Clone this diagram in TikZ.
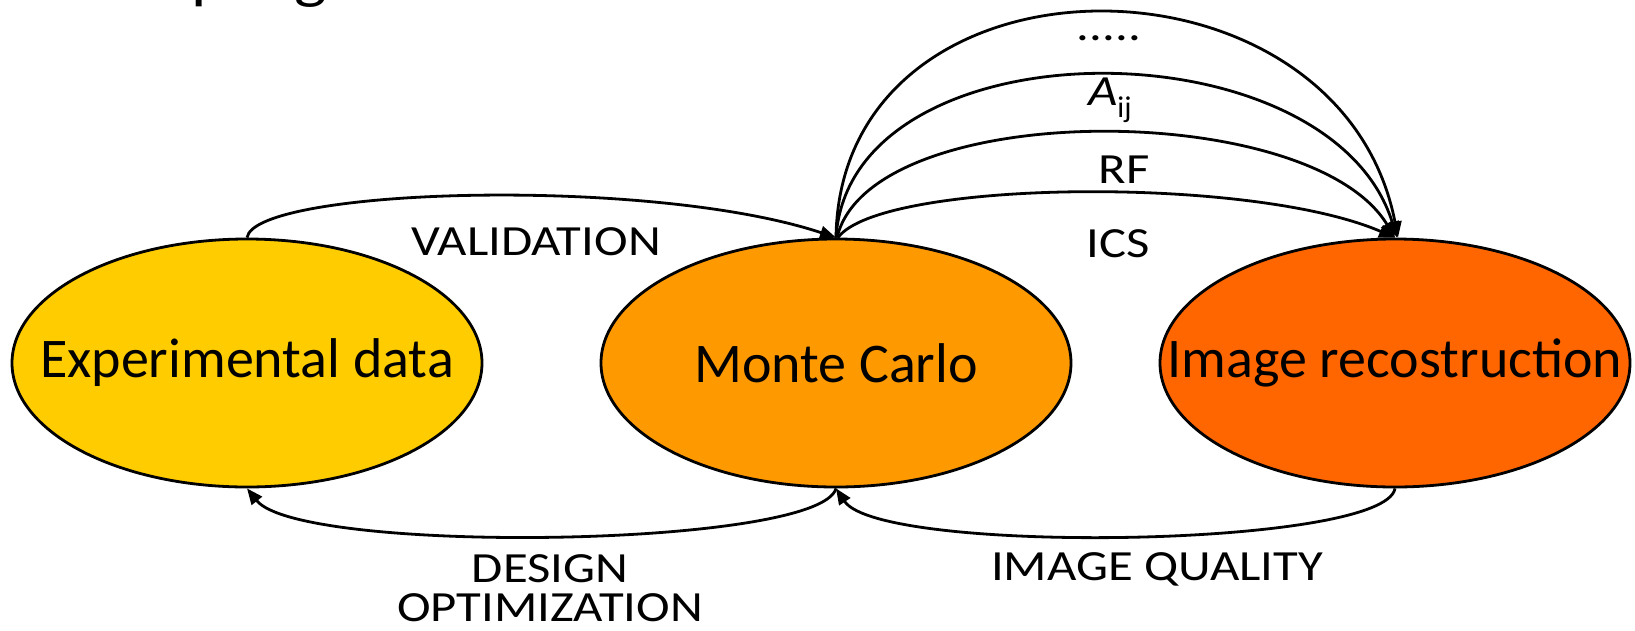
\documentclass[tikz,border=0pt]{standalone}
\usepackage{fontspec}
\setmainfont{Carlito}
\newfontfamily\tagfont[FakeStretch=1.18]{Carlito}
\usetikzlibrary{shapes.geometric,arrows.meta}
\definecolor{expfill}{HTML}{FFCC00}
\definecolor{mcfill}{HTML}{FF9900}
\definecolor{recfill}{HTML}{FF6600}
\begin{document}
\begin{tikzpicture}[x=1pt,y=-1pt,
  stage/.style={ellipse, draw, line width=2.8pt, minimum width=470pt,
    minimum height=248pt, inner sep=0pt},
  stagetext/.style={inner sep=0pt, font=\fontsize{56}{64}\selectfont},
  flow/.style={line width=2.8pt, -{Triangle[length=16pt,width=13pt]}},
  tag/.style={font=\tagfont\fontsize{43}{48}\selectfont, inner sep=0pt}]
\useasboundingbox (0,0) rectangle (1635,630);

% slide title, running off the top edge
\begin{scope}
  \clip (0,0) rectangle (1635,630);
  \node[anchor=base west, inner sep=0pt, font=\tagfont\fontsize{58}{64}\selectfont]
    (title) at (72,-3) {Sampling of the PET};
\end{scope}

% the three stages
\node[stage, fill=expfill] (exp) at (247,363) {};
\node[stage, fill=mcfill]  (mc)  at (836,363) {};
\node[stage, fill=recfill] (rec) at (1395,363) {};
\node[stagetext] (expt) at (exp.center) {Experimental data};
\node[stagetext] (mct)  at (mc.center)  {Monte Carlo};
\node[stagetext] (rect) at (rec.center) {Image recostruction};

% experimental data -> Monte Carlo
\draw[flow] (exp.north) .. controls (255,188) and (650,176) .. (mc.north);
\node[tag] (val) at (536,242) {VALIDATION};

% Monte Carlo -> experimental data
\draw[flow] (mc.south) .. controls (820,548) and (300,555) .. (exp.south);
\node[tag] (des) at (550,569) {DESIGN};
\node[tag] (opt) at (550,608) {OPTIMIZATION};

% image reconstruction -> Monte Carlo
\draw[flow] (rec.south) .. controls (1385,548) and (880,555) .. (mc.south);
\node[tag] (iq) at (1157,569) {IMAGE QUALITY};

% Monte Carlo -> image reconstruction
\draw[flow] ([xshift=2pt]mc.north) .. controls (880,180) and (1250,175) .. (rec.north);
\draw[flow] ([xshift=1pt]mc.north) .. controls (870,98) and (1310,98) .. (rec.north);
\draw[flow] (mc.north) .. controls (850,21) and (1330,21) .. ([xshift=2pt]rec.north);
\draw[flow] (mc.north) .. controls (840,-62) and (1340,-62) .. ([xshift=3pt]rec.north);
\node[tag] (ics) at (1118,244) {ICS};
\node[tag] (rf)  at (1124,170) {RF};
\node[tag] (aij) at (1110,100) {\itshape A\textsubscript{\normalfont ij}};
\node[tag] (more) at (1109,38) {.....};
\end{tikzpicture}
\end{document}
